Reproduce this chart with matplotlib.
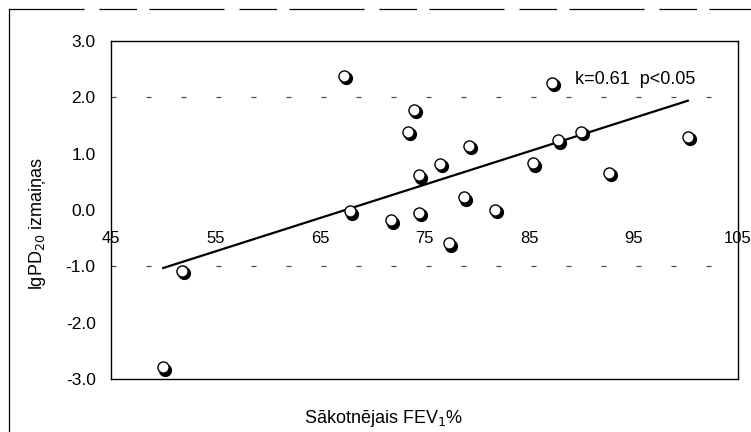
import numpy as np
import matplotlib.pyplot as plt
from matplotlib.lines import Line2D
from matplotlib.transforms import offset_copy

plt.rcParams['font.family'] = ['Liberation Sans', 'DejaVu Sans']

# Daten
fev1 = [50.0, 51.8, 67.3, 67.9, 71.8, 73.4, 74.0, 74.5, 74.5, 76.5,
        77.3, 78.8, 79.3, 81.7, 85.4, 87.2, 87.8, 90.0, 92.7, 100.2]
lgpd = [-2.79, -1.08, 2.38, -0.02, -0.18, 1.39, 1.78, 0.62, -0.05, 0.82,
        -0.59, 0.23, 1.14, 0.00, 0.83, 2.26, 1.24, 1.39, 0.66, 1.30]

# Regressionsgerade (Endpunkte)
fit_x = [50.0, 100.2]
fit_y = [-1.03, 1.94]

x_ticks = [45, 55, 65, 75, 85, 95, 105]
y_ticks = [3.0, 2.0, 1.0, 0.0, -1.0, -2.0, -3.0]
y_labels = ['3.0', '2.0', '1.0', '0.0', '-1.0', '-2.0', '-3.0']

fig = plt.figure(figsize=(7.51, 4.32), dpi=100)
ax = fig.add_axes([0.1478, 0.1227, 0.8349, 0.7824])

ax.set_xlim(45, 105)
ax.set_ylim(-3, 3)

# Gitterlinien (nur Fragmente sichtbar im Scan)
for gy in [2.0, -1.0]:
    ax.axhline(gy, color='0.3', lw=0.9, ls=(0, (4, 24)), zorder=1)

ax.plot(fit_x, fit_y, color='black', lw=1.6, zorder=2)

# Schatten + weisse Kreise
shadow = offset_copy(ax.transData, fig=fig, x=2, y=-2.5, units='dots')
ax.plot(fev1, lgpd, 'o', ms=8.5, color='black', transform=shadow, zorder=3)
ax.plot(fev1, lgpd, 'o', ms=8, mfc='white', mec='black', mew=1.0, zorder=4)

ax.text(89.4, 2.31, 'k=0.61  p<0.05', fontsize=13, va='center', ha='left')

# Rahmen
for s in ax.spines.values():
    s.set_linewidth(1.0)
ax.set_xticks([])
ax.set_yticks(y_ticks)
ax.set_yticklabels(y_labels, fontsize=12.5)
ax.tick_params(axis='y', length=0, pad=11)

# x-Achse bei y=0 (Linie im Scan nicht sichtbar)
sec = ax.secondary_xaxis(0.5)
for s in sec.spines.values():
    s.set_visible(False)
sec.set_xticks(x_ticks)
sec.set_xticklabels([str(t) for t in x_ticks], fontsize=12)
sec.xaxis.set_ticks_position('bottom')
sec.tick_params(length=0, pad=15, labelbottom=True, labeltop=False)

ax.set_ylabel('lgPD$_{20}$ izmaiņas', fontsize=13)
ax.yaxis.set_label_coords(-0.10, 0.459)
ax.set_xlabel('Sākotnējais FEV$_1$%', fontsize=13)
ax.xaxis.set_label_coords(0.435, -0.085)

# aeusserer Rahmen vom Scan
fig.add_artist(Line2D([0.012, 1.0], [0.979, 0.979], color='black', lw=0.9,
                      ls=(0, (60, 12, 30, 10))))
fig.add_artist(Line2D([0.012, 0.012], [0.0, 0.979], color='black', lw=0.9))

fig.savefig('out.png', dpi=100)
